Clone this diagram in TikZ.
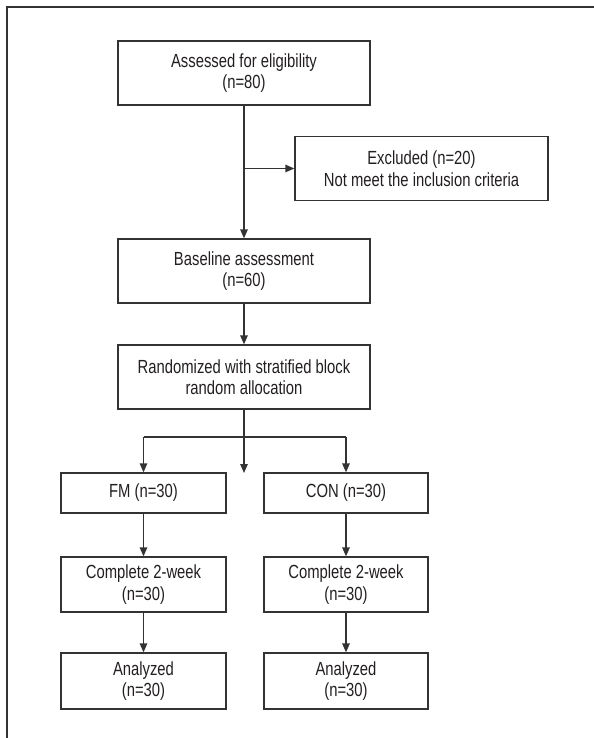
\documentclass[tikz,border=0pt]{standalone}
\usepackage{fontspec}
\setmainfont{Liberation Sans}[FakeStretch=0.78]
\usetikzlibrary{arrows.meta}
\definecolor{ink}{HTML}{231F20}
\definecolor{edge}{HTML}{333333}
\tikzset{
  box/.style={draw=edge, line width=1.3bp, fill=white, inner sep=0pt, align=center,
    text=ink, font=\fontsize{19bp}{21.5bp}\selectfont},
  conn/.style={draw=edge, line width=1.3bp},
  arr/.style={conn, -{Triangle[length=9bp,width=7.5bp]}},
  frame/.style={draw=edge, line width=1.6bp}
}
\begin{document}
\begin{tikzpicture}[x=1bp,y=-1bp]
\useasboundingbox (0,0) rectangle (594,738);
\draw[frame] (7,738) -- (7,7) -- (594,7);

\node[box, minimum width=252bp, minimum height=64bp] (b1) at (244,73) {Assessed for eligibility\\(n=80)};
\node[box, minimum width=253bp, minimum height=64bp] (ex) at (421.5,168.5) {Excluded (n=20)\\Not meet the inclusion criteria};
\node[box, minimum width=252bp, minimum height=64bp] (b2) at (244,271) {Baseline assessment\\(n=60)};
\node[box, minimum width=252bp, minimum height=64bp] (b3) at (244,377) {Randomized with stratified block\\random allocation};
\node[box, minimum width=165bp, minimum height=40bp] (fm) at (143.5,493) {FM (n=30)};
\node[box, minimum width=164bp, minimum height=40bp] (con) at (346,493) {CON (n=30)};
\node[box, minimum width=165bp, minimum height=55bp] (c1) at (143.5,584.5) {Complete 2-week\\(n=30)};
\node[box, minimum width=164bp, minimum height=55bp] (c2) at (346,584.5) {Complete 2-week\\(n=30)};
\node[box, minimum width=165bp, minimum height=56bp] (a1) at (143.5,681) {Analyzed\\(n=30)};
\node[box, minimum width=164bp, minimum height=56bp] (a2) at (346,681) {Analyzed\\(n=30)};

\coordinate (j1) at (b1.south |- ex.west);
\coordinate (split) at (244,437);
\coordinate (mid) at (244,473);

\draw[arr] (b1) -- (b2);
\draw[arr] (j1) -- (ex.west);
\draw[arr] (b2) -- (b3);
\draw[arr] (b3.south) -- (mid);
\draw[conn] (fm.north |- split) -- (con.north |- split);
\draw[arr] (fm.north |- split) -- (fm.north);
\draw[arr] (con.north |- split) -- (con.north);
\draw[arr] (fm) -- (c1);
\draw[arr] (c1) -- (a1);
\draw[arr] (con) -- (c2);
\draw[arr] (c2) -- (a2);
\end{tikzpicture}
\end{document}
